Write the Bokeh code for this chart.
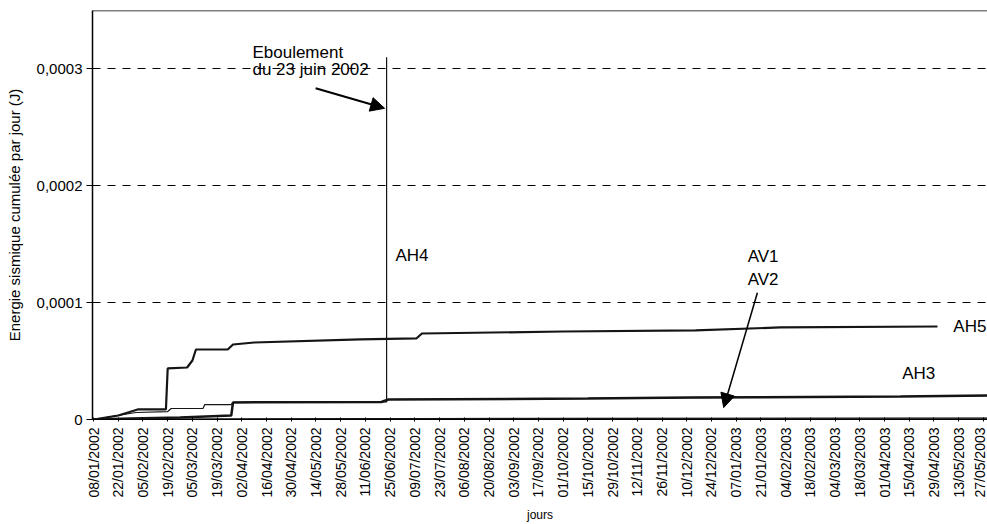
import pandas as pd
from math import pi
from bokeh.plotting import figure
from bokeh.models import (Range1d, FixedTicker, DatetimeTickFormatter, CustomJSTickFormatter,
                          Label, Arrow, NormalHead, Span)
from bokeh.embed import file_html
from bokeh.resources import INLINE

# ---------------- data ----------------
tick_labels = ["08/01/2002", "22/01/2002", "05/02/2002", "19/02/2002", "05/03/2002", "19/03/2002",
               "02/04/2002", "16/04/2002", "30/04/2002", "14/05/2002", "28/05/2002", "11/06/2002",
               "25/06/2002", "09/07/2002", "23/07/2002", "06/08/2002", "20/08/2002", "03/09/2002",
               "17/09/2002", "01/10/2002", "15/10/2002", "29/10/2002", "12/11/2002", "26/11/2002",
               "10/12/2002", "24/12/2002", "07/01/2003", "21/01/2003", "04/02/2003", "18/02/2003",
               "04/03/2003", "18/03/2003", "01/04/2003", "15/04/2003", "29/04/2003", "13/05/2003",
               "27/05/2003"]
y_ticks = [0, 0.0001, 0.0002, 0.0003]

ah5_dates = ["08/01/2002", "22/01/2002", "02/02/2002", "18/02/2002", "19/02/2002", "02/03/2002",
             "05/03/2002", "07/03/2002", "25/03/2002", "28/03/2002", "09/04/2002", "08/06/2002",
             "10/07/2002", "13/07/2002", "01/10/2002", "15/12/2002", "01/02/2003", "01/05/2003"]
ah5_vals = [0, 0.0000034, 0.0000086, 0.0000086, 0.0000437, 0.0000445,
            0.0000505, 0.0000599, 0.0000599, 0.0000642, 0.0000659, 0.0000685,
            0.0000695, 0.0000736, 0.0000753, 0.0000762, 0.0000788, 0.0000796]

ah3_dates = ["08/01/2002", "29/01/2002", "26/02/2002", "27/03/2002", "28/03/2002", "20/06/2002",
             "24/06/2002", "15/10/2002", "12/12/2002", "10/04/2003", "31/05/2003"]
ah3_vals = [0, 0.0000009, 0.0000017, 0.0000034, 0.0000146, 0.0000150,
            0.0000171, 0.0000180, 0.0000188, 0.0000197, 0.0000205]

ah4_dates = ["08/01/2002", "01/02/2002", "19/02/2002", "21/02/2002", "11/03/2002", "12/03/2002",
             "27/03/2002", "28/03/2002", "23/06/2002", "23/06/2002", "23/06/2002", "15/10/2002",
             "12/12/2002", "10/04/2003", "31/05/2003"]
ah4_vals = [0, 0.0000060, 0.0000068, 0.0000094, 0.0000094, 0.0000128,
            0.0000128, 0.0000146, 0.0000150, 0.00031, 0.0000171, 0.0000180,
            0.0000188, 0.0000197, 0.0000205]

av1_dates = ["08/01/2002", "15/03/2002", "01/06/2002", "01/10/2002", "31/05/2003"]
av1_vals = [0, 0.0000004, 0.0000008, 0.0000010, 0.0000012]

av2_dates = ["08/01/2002", "20/02/2002", "01/05/2002", "15/08/2002", "31/05/2003"]
av2_vals = [0, 0.0000003, 0.0000006, 0.0000009, 0.0000011]

FONT = "Liberation Sans"


def to_dt(lst):
    return pd.to_datetime(lst, format="%d/%m/%Y")


def ms(s):
    return (pd.to_datetime(s, format="%d/%m/%Y %H:%M") - pd.Timestamp("1970-01-01")) / pd.Timedelta(milliseconds=1)


# ---------------- figure ----------------
p = figure(width=987, height=524, x_axis_type="datetime", output_backend="svg",
           toolbar_location=None, min_border_left=92, min_border_right=0,
           min_border_top=10, min_border_bottom=105,
           x_range=Range1d(ms("07/01/2002 10:00"), ms("29/05/2003 08:00")),
           y_range=Range1d(0, 0.00035))
p.outline_line_color = None
p.background_fill_color = "white"
p.border_fill_color = "white"

line_col = "#151515"
p.line(to_dt(av1_dates), av1_vals, line_color=line_col, line_width=1)
p.line(to_dt(av2_dates), av2_vals, line_color=line_col, line_width=1)
p.line(to_dt(ah3_dates), ah3_vals, line_color=line_col, line_width=2.5)
p.line(to_dt(ah4_dates), ah4_vals, line_color=line_col, line_width=1.2)
p.line(to_dt(ah5_dates), ah5_vals, line_color=line_col, line_width=2.2)

# top frame line
p.add_layout(Span(location=0.00035, dimension="width", line_color="black", line_width=1.5))

# x axis
tick_ms = [(d - pd.Timestamp("1970-01-01")) / pd.Timedelta(milliseconds=1) for d in to_dt(tick_labels)]
p.xaxis.ticker = FixedTicker(ticks=tick_ms)
fmt = "%d/%m/%Y"
p.xaxis.formatter = DatetimeTickFormatter(milliseconds=fmt, seconds=fmt, minsec=fmt, minutes=fmt,
                                          hourmin=fmt, hours=fmt, days=fmt, months=fmt, years=fmt)
p.xaxis.major_label_orientation = pi / 2
p.xaxis.major_label_text_font = FONT
p.xaxis.major_label_text_font_size = "14px"
p.xaxis.major_label_text_color = "black"
p.xaxis.major_label_standoff = 6
p.xaxis.major_tick_in = 2
p.xaxis.major_tick_out = 2
p.xaxis.minor_tick_line_color = None
p.xaxis.axis_line_color = "black"
p.xaxis.major_tick_line_color = "black"
p.xaxis.axis_label = "jours"
p.xaxis.axis_label_text_font = FONT
p.xaxis.axis_label_text_font_size = "12px"
p.xaxis.axis_label_text_font_style = "normal"
p.xaxis.axis_label_text_color = "black"
p.xaxis.axis_label_standoff = 7

# y axis
p.yaxis.ticker = FixedTicker(ticks=y_ticks)
p.yaxis.formatter = CustomJSTickFormatter(
    code="return tick == 0 ? '0' : tick.toFixed(4).replace('.', ',');")
p.yaxis.major_label_text_font = FONT
p.yaxis.major_label_text_font_size = "15px"
p.yaxis.major_label_text_color = "black"
p.yaxis.major_label_standoff = 4
p.yaxis.major_tick_in = 0
p.yaxis.major_tick_out = 6
p.yaxis.minor_tick_line_color = None
p.yaxis.axis_line_color = "black"
p.yaxis.axis_line_width = 1.5
p.yaxis.major_tick_line_color = "black"
p.yaxis.axis_label = "Energie sismique cumulée par jour (J)"
p.yaxis.axis_label_text_font = FONT
p.yaxis.axis_label_text_font_size = "15px"
p.yaxis.axis_label_text_font_style = "normal"
p.yaxis.axis_label_text_color = "black"
p.yaxis.axis_label_standoff = 11

# grid
p.xgrid.visible = False
p.ygrid.ticker = FixedTicker(ticks=y_ticks)
p.ygrid.grid_line_color = "black"
p.ygrid.grid_line_dash = "8 7"
p.ygrid.grid_line_width = 1

# annotations
ann = dict(text_font=FONT, text_font_size="17px", text_color="black",
           text_baseline="middle", text_align="left")
p.add_layout(Label(x=ms("08/04/2002 00:00"), y=0.000314, text="Eboulement", **ann))
p.add_layout(Label(x=ms("08/04/2002 00:00"), y=0.0002996, text="du 23 juin 2002", **ann))
p.add_layout(Label(x=ms("28/06/2002 00:00"), y=0.0001404, text="AH4", **ann))
p.add_layout(Label(x=ms("13/01/2003 12:00"), y=0.0001395, text="AV1", **ann))
p.add_layout(Label(x=ms("13/01/2003 12:00"), y=0.0001198, text="AV2", **ann))
p.add_layout(Label(x=ms("10/05/2003 00:00"), y=0.0000796, text="AH5", **ann))
p.add_layout(Label(x=ms("11/04/2003 00:00"), y=0.0000394, text="AH3", **ann))

p.add_layout(Arrow(end=NormalHead(size=14, fill_color="black", line_color="black"),
                   x_start=ms("13/05/2002 19:00"), y_start=0.0002834,
                   x_end=ms("21/06/2002 21:00"), y_end=0.0002663,
                   line_color="black", line_width=2))
p.add_layout(Arrow(end=NormalHead(size=14, fill_color="black", line_color="black"),
                   x_start=ms("19/01/2003 00:00"), y_start=0.0001084,
                   x_end=ms("30/12/2002 22:00"), y_end=0.0000102,
                   line_color="black", line_width=1.5))

open("out.html", "w").write(file_html(p, INLINE))
